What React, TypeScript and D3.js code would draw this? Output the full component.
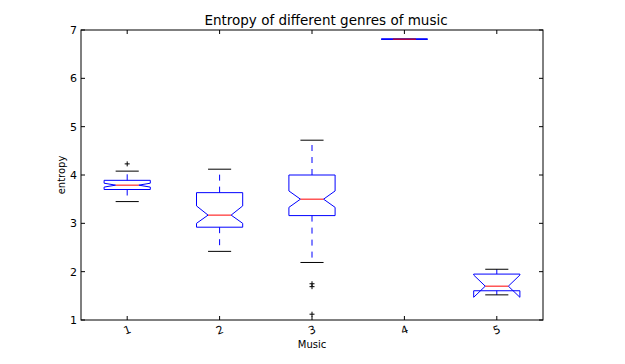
import { scaleLinear, line } from "d3";

// values
const genres = ["1", "2", "3", "4", "5"];
const whiskerLow = [3.45, 2.42, 2.19, 6.81, 1.52];
const q1 = [3.7, 2.92, 3.16, 6.81, 1.605];
const notchLow = [3.75, 3.0, 3.33, 6.81, 1.47];
const median = [3.79, 3.17, 3.5, 6.81, 1.7];
const notchHigh = [3.83, 3.36, 3.67, 6.81, 1.93];
const q3 = [3.89, 3.635, 4.0, 6.81, 1.95];
const whiskerHigh = [4.08, 4.12, 4.72, 6.81, 2.05];
const outliers = [[4.23], [], [1.75, 1.69, 1.12], [], []];
const yTicks = [1, 2, 3, 4, 5, 6, 7];

const W = 625;
const H = 364;
const left = 81;
const right = 543;
const top = 30;
const bottom = 320;
const font = "'DejaVu Sans', sans-serif";

const App = () => {
  const x = scaleLinear().domain([0.5, 5.5]).range([left, right]);
  const y = scaleLinear().domain([1, 7]).range([bottom, top]);
  const path = line<[number, number]>()
    .x((d) => x(d[0]))
    .y((d) => y(d[1]));

  const boxW = 0.25; // half width
  const capW = 0.125;

  return (
    <svg
      width={W}
      height={H}
      style={{ position: "absolute", left: 0, top: 0, background: "#fff" }}
      fontFamily={font}
    >
      <text x={326} y={25} fontSize={13.5} textAnchor="middle" fill="#000">
        Entropy of different genres of music
      </text>

      {genres.map((g, i) => {
        const p = i + 1;
        const l = p - boxW;
        const r = p + boxW;
        const boxPts: [number, number][] = [
          [l, q1[i]],
          [r, q1[i]],
          [r, notchLow[i]],
          [p + capW, median[i]],
          [r, notchHigh[i]],
          [r, q3[i]],
          [l, q3[i]],
          [l, notchHigh[i]],
          [p - capW, median[i]],
          [l, notchLow[i]],
          [l, q1[i]],
        ];
        return (
          <g key={g}>
            <path
              d={path([[p, q1[i]], [p, whiskerLow[i]]]) ?? ""}
              stroke="blue"
              strokeDasharray="6,6"
              fill="none"
            />
            <path
              d={path([[p, q3[i]], [p, whiskerHigh[i]]]) ?? ""}
              stroke="blue"
              strokeDasharray="6,6"
              fill="none"
            />
            <path
              d={path([[p - capW, whiskerLow[i]], [p + capW, whiskerLow[i]]]) ?? ""}
              stroke="#000"
              fill="none"
            />
            <path
              d={path([[p - capW, whiskerHigh[i]], [p + capW, whiskerHigh[i]]]) ?? ""}
              stroke="#000"
              fill="none"
            />
            <path d={path(boxPts) ?? ""} stroke="blue" fill="none" />
            <path
              d={path([[p - capW, median[i]], [p + capW, median[i]]]) ?? ""}
              stroke="red"
              fill="none"
            />
            {outliers[i].map((v, j) => (
              <g key={j} transform={`translate(${x(p)},${y(v)})`} stroke="#000">
                <line x1={-2.5} x2={2.5} y1={0} y2={0} />
                <line x1={0} x2={0} y1={-2.5} y2={2.5} />
              </g>
            ))}
          </g>
        );
      })}

      {/* frame */}
      <rect
        x={left}
        y={top}
        width={right - left}
        height={bottom - top}
        fill="none"
        stroke="#000"
      />

      {/* y ticks */}
      {yTicks.map((t) => (
        <g key={t}>
          <line x1={left} x2={left + 4} y1={y(t)} y2={y(t)} stroke="#000" />
          <line x1={right - 4} x2={right} y1={y(t)} y2={y(t)} stroke="#000" />
          <text
            x={left - 4}
            y={y(t)}
            dy="0.35em"
            fontSize={11}
            textAnchor="end"
            fill="#000"
          >
            {t}
          </text>
        </g>
      ))}

      {/* x ticks */}
      {genres.map((g, i) => {
        const px = x(i + 1);
        return (
          <g key={g}>
            <line x1={px} x2={px} y1={bottom} y2={bottom - 4} stroke="#000" />
            <line x1={px} x2={px} y1={top} y2={top + 4} stroke="#000" />
            <text
              transform={`translate(${px},${bottom + 10}) rotate(-20)`}
              dy="0.35em"
              fontSize={11}
              textAnchor="middle"
              fill="#000"
            >
              {g}
            </text>
          </g>
        );
      })}

      <text x={(left + right) / 2} y={348} fontSize={10} textAnchor="middle" fill="#000">
        Music
      </text>
      <text
        transform={`translate(65,${(top + bottom) / 2}) rotate(-90)`}
        fontSize={10}
        textAnchor="middle"
        fill="#000"
      >
        entropy
      </text>
    </svg>
  );
};

export default App;
